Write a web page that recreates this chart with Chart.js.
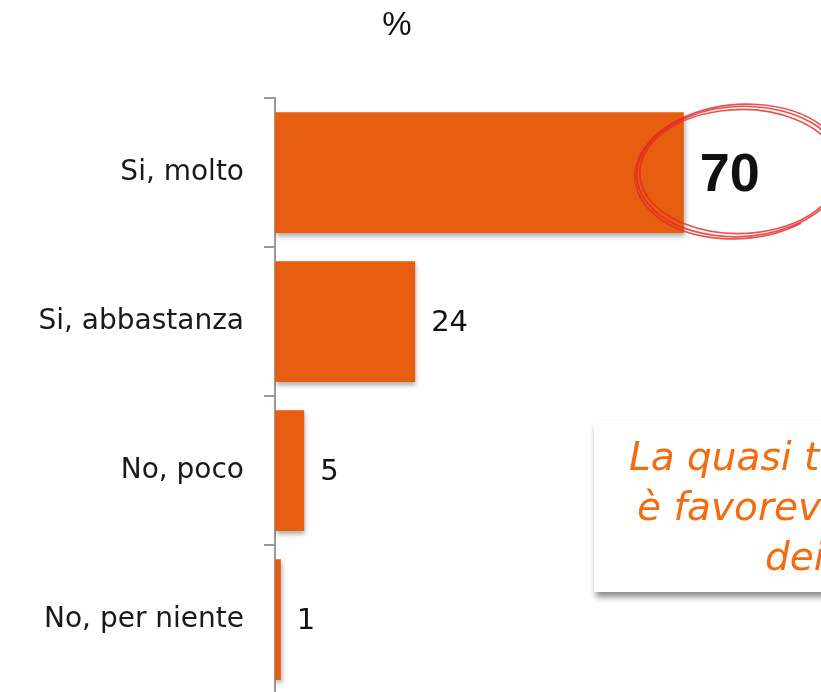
<!DOCTYPE html>
<html>
<head>
<meta charset="utf-8">
<script src="https://cdn.jsdelivr.net/npm/chart.js@4"></script>
<style>
html,body{margin:0;padding:0;overflow:hidden;background:#fff;}
#wrap{position:relative;width:821px;height:731px;}
</style>
</head>
<body>
<div id="wrap"><canvas id="c" width="821" height="731"></canvas></div>
<script>
const categories = ["Si, molto", "Si, abbastanza", "No, poco", "No, per niente"];
const values = [70, 24, 5, 1];
const titleText = "%";
const noteLines = ["La quasi totalità", "è favorevole", "dei cittadini"];

const barColor = "#e85e10";
const LABEL_FONT = "DejaVu Sans";

const decorPlugin = {
  id: "decor",
  beforeDatasetsDraw(chart) {
    const ctx = chart.ctx;
    ctx.save();
    ctx.shadowColor = "rgba(0,0,0,0.35)";
    ctx.shadowBlur = 5;
    ctx.shadowOffsetX = 1;
    ctx.shadowOffsetY = 3;
  },
  afterDatasetsDraw(chart) {
    const ctx = chart.ctx;
    ctx.restore();
    const meta = chart.getDatasetMeta(0);
    meta.data.forEach((bar, i) => {
      ctx.save();
      ctx.fillStyle = "#111";
      ctx.textBaseline = "middle";
      ctx.textAlign = "left";
      if (i === 0) {
        ctx.font = "bold 54px 'Liberation Sans', Arial, sans-serif";
        ctx.fillText(String(values[i]), bar.x + 16, bar.y + 4);
      } else {
        ctx.font = "29px '" + LABEL_FONT + "', sans-serif";
        ctx.fillText(String(values[i]), bar.x + 16, bar.y + 2);
      }
      ctx.restore();
    });
    // hand-drawn red circle around the first value
    const b0 = meta.data[0];
    const cx = b0.x + 56, cy = b0.y - 1;
    ctx.save();
    ctx.strokeStyle = "rgba(225,40,40,0.8)";
    ctx.lineWidth = 1.7;
    const loops = [[103, 65, -0.05, 0.3, 6.0], [100, 62, -0.02, 0.6, 6.5], [105, 67, -0.08, 1.0, 6.9]];
    loops.forEach(l => {
      ctx.beginPath();
      ctx.ellipse(cx, cy, l[0], l[1], l[2], l[3], l[4]);
      ctx.stroke();
    });
    ctx.restore();
  },
  afterDraw(chart) {
    const ctx = chart.ctx;
    // title
    ctx.save();
    ctx.fillStyle = "#111";
    ctx.font = "33px 'Liberation Sans', Arial, sans-serif";
    ctx.textAlign = "center";
    ctx.textBaseline = "middle";
    ctx.fillText(titleText, 397, 26);
    ctx.restore();
    // note box
    ctx.save();
    ctx.shadowColor = "rgba(0,0,0,0.45)";
    ctx.shadowBlur = 6;
    ctx.shadowOffsetX = 2;
    ctx.shadowOffsetY = 5;
    ctx.fillStyle = "#fff";
    ctx.fillRect(594, 421, 300, 171);
    ctx.restore();
    ctx.save();
    ctx.fillStyle = "#f46c12";
    ctx.font = "italic 39px '" + LABEL_FONT + "', sans-serif";
    ctx.textAlign = "left";
    ctx.textBaseline = "alphabetic";
    const xs = [629, 637, 765];
    const ys = [470, 520, 570];
    noteLines.forEach((t, i) => ctx.fillText(t, xs[i], ys[i]));
    ctx.restore();
  }
};

new Chart(document.getElementById("c"), {
  type: "bar",
  data: {
    labels: categories,
    datasets: [{
      data: values,
      backgroundColor: barColor,
      borderWidth: 0,
      categoryPercentage: 1,
      barPercentage: 0.81
    }]
  },
  options: {
    indexAxis: "y",
    responsive: false,
    animation: false,
    layout: { padding: { top: 98, bottom: 6, left: 0, right: 0 } },
    plugins: { legend: { display: false }, tooltip: { enabled: false }, title: { display: false } },
    scales: {
      x: { display: false, min: 0, max: 93.5 },
      y: {
        afterFit(scale) { scale.width = 275; },
        grid: { drawOnChartArea: false, drawTicks: true, tickLength: 11, color: "#9a9a9a", lineWidth: 2, offset: true },
        border: { display: true, color: "#9a9a9a", width: 2 },
        ticks: { padding: 20, color: "#1a1a1a", font: { family: LABEL_FONT, size: 28 } }
      }
    }
  },
  plugins: [decorPlugin]
});
</script>
</body>
</html>
